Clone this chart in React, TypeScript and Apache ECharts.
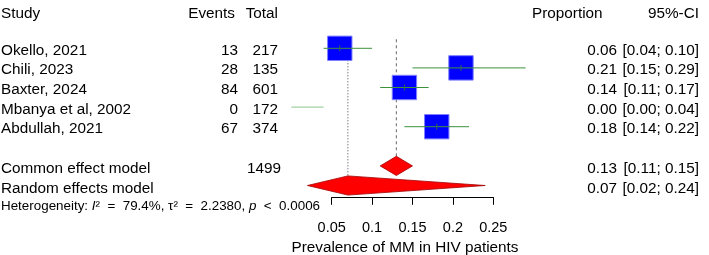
import React, { useEffect, useRef } from "react";
import * as echarts from "echarts";

// Individual studies
const studies = ["Okello, 2021", "Chili, 2023", "Baxter, 2024", "Mbanya et al, 2002", "Abdullah, 2021"];
const events = [13, 28, 84, 0, 67];
const totals = [217, 135, 601, 172, 374];
const proportions = [0.06, 0.21, 0.14, 0.0, 0.18];
const ciLower = [0.04, 0.15, 0.11, 0.0, 0.14];
const ciUpper = [0.1, 0.29, 0.17, 0.04, 0.22];

// Pooled estimates
const pooledLabels = ["Common effect model", "Random effects model"];
const pooledTotal = 1499;
const pooledEstimates = [0.13, 0.07];
const pooledLower = [0.11, 0.02];
const pooledUpper = [0.15, 0.24];

// Axis
const axisMin = 0.05;
const axisMax = 0.25;
const axisStep = 0.05;
const axisTitle = "Prevalence of MM in HIV patients";

const FONT = '"Liberation Sans", Arial, Helvetica, sans-serif';
const FS = 15.3;

const studyRow = (i: number) => i + 1;
const pooledRow = (i: number) => 7 + i;
const hetRow = 9;

const fmt = (v: number) => v.toFixed(2);

function txt(text: string, x: number, y: number, align: string, size = FS) {
  return {
    type: "text",
    style: {
      text,
      x,
      y,
      align,
      verticalAlign: "middle",
      fontSize: size,
      fontFamily: FONT,
      fill: "#000",
    },
  };
}

export default function App() {
  const ref = useRef<HTMLDivElement>(null);

  useEffect(() => {
    if (!ref.current) return;
    const chart = echarts.init(ref.current, undefined, { renderer: "svg" });

    const studyData = studies.map((_, i) => [proportions[i], studyRow(i), ciLower[i], ciUpper[i], i]);
    const pooledData = pooledLabels.map((_, i) => [pooledEstimates[i], pooledRow(i), pooledLower[i], pooledUpper[i], i]);
    const refLines = [
      [pooledEstimates[0], 0.54, pooledRow(0) - 0.5, 0],
      [pooledEstimates[1], 0.54, pooledRow(1) - 0.5, 1],
    ];

    chart.setOption({
      animation: false,
      grid: [
        { left: 291.3, width: 242.4, top: 9.1, height: 215.6 },
        { left: 331.7, width: 161.6, top: 150, height: 47.3 },
      ],
      xAxis: [
        { type: "value", gridIndex: 0, min: 0, max: 0.3, show: false },
        {
          type: "value",
          gridIndex: 1,
          min: axisMin,
          max: axisMax,
          interval: axisStep,
          position: "bottom",
          axisLine: { show: true, lineStyle: { color: "#000", width: 1 } },
          axisTick: { show: true, length: 7.5, lineStyle: { color: "#000", width: 1 } },
          axisLabel: {
            margin: 22,
            fontSize: 14.5,
            fontFamily: FONT,
            color: "#000",
            formatter: (v: number) => String(+v.toFixed(2)),
          },
          splitLine: { show: false },
        },
      ],
      yAxis: [
        { type: "value", gridIndex: 0, min: -1, max: 10, inverse: true, show: false },
        { type: "value", gridIndex: 1, show: false },
      ],
      graphic: [
        txt("Study", 1, 12.5, "left"),
        txt("Events", 235, 12.5, "right"),
        txt("Total", 278, 12.5, "right"),
        txt("Proportion", 532, 12.5, "left"),
        txt("95%-CI", 699, 12.5, "right"),
        txt(axisTitle, 405, 246.5, "center"),
      ],
      series: [
        {
          // reference lines for the pooled estimates
          type: "custom",
          xAxisIndex: 0,
          yAxisIndex: 0,
          data: refLines,
          renderItem: (_p: any, api: any) => {
            const a = api.coord([api.value(0), api.value(1)]);
            const b = api.coord([api.value(0), api.value(2)]);
            const dotted = api.value(3) === 1;
            return {
              type: "line",
              shape: { x1: a[0], y1: a[1], x2: b[0], y2: b[1] },
              style: {
                stroke: dotted ? "#444" : "#666",
                lineWidth: 1,
                lineDash: dotted ? [1, 2] : [3, 3],
              },
            };
          },
        },
        {
          // studies: square, CI line and table columns
          type: "custom",
          xAxisIndex: 0,
          yAxisIndex: 0,
          data: studyData,
          renderItem: (_p: any, api: any) => {
            const i = api.value(4);
            const c = api.coord([api.value(0), api.value(1)]);
            const lo = api.coord([api.value(2), api.value(1)]);
            const hi = api.coord([api.value(3), api.value(1)]);
            const side = 24.4;
            const children: any[] = [];
            if (events[i] > 0) {
              children.push({
                type: "rect",
                shape: { x: c[0] - side / 2, y: c[1] - side / 2, width: side, height: side },
                style: { fill: "#0000ff", stroke: "#8080ff", lineWidth: 1 },
              });
            }
            children.push({
              type: "line",
              shape: { x1: lo[0], y1: c[1], x2: hi[0], y2: c[1] },
              style: { stroke: events[i] > 0 ? "#3c923c" : "#8cc48c", lineWidth: 1 },
            });
            if (events[i] > 0) {
              children.push({
                type: "line",
                shape: { x1: c[0], y1: c[1] - 3, x2: c[0], y2: c[1] + 3 },
                style: { stroke: "#2a6a4a", lineWidth: 1 },
              });
            }
            const ty = c[1] + 1;
            children.push(txt(studies[i], 1, ty, "left"));
            children.push(txt(String(events[i]), 238, ty, "right"));
            children.push(txt(String(totals[i]), 278, ty, "right"));
            children.push(txt(fmt(proportions[i]), 617, ty, "right"));
            children.push(txt(`[${fmt(ciLower[i])}; ${fmt(ciUpper[i])}]`, 699, ty, "right"));
            return { type: "group", children };
          },
        },
        {
          // pooled diamonds and their rows
          type: "custom",
          xAxisIndex: 0,
          yAxisIndex: 0,
          data: pooledData,
          renderItem: (_p: any, api: any) => {
            const i = api.value(4);
            const r = api.value(1);
            const e = api.value(0);
            const pts = [
              api.coord([api.value(2), r]),
              api.coord([e, r - 0.49]),
              api.coord([api.value(3), r]),
              api.coord([e, r + 0.49]),
            ];
            const ty = pts[0][1] + 2;
            const children: any[] = [
              {
                type: "polygon",
                shape: { points: pts },
                style: { fill: "#ff0000", stroke: "#a00000", lineWidth: 0.8 },
              },
              txt(pooledLabels[i], 1, ty, "left"),
              txt(fmt(pooledEstimates[i]), 617, ty, "right"),
              txt(`[${fmt(pooledLower[i])}; ${fmt(pooledUpper[i])}]`, 699, ty, "right"),
            ];
            if (i === 0) children.push(txt(String(pooledTotal), 281, ty, "right"));
            return { type: "group", children };
          },
        },
        {
          // heterogeneity statement
          type: "custom",
          xAxisIndex: 0,
          yAxisIndex: 0,
          data: [[0, hetRow]],
          renderItem: (_p: any, api: any) => {
            const c = api.coord([0, api.value(1)]);
            const base = { fontSize: 13.4, fontFamily: FONT, fill: "#000" };
            return {
              type: "text",
              style: {
                text: "Heterogeneity: {it|I}²  =  79.4%, τ²  =  2.2380, {it|p}  <  0.0006",
                x: 1,
                y: c[1],
                align: "left",
                verticalAlign: "middle",
                ...base,
                rich: {
                  it: { ...base, fontStyle: "italic" },
                },
              },
            };
          },
        },
      ],
    });

    return () => chart.dispose();
  }, []);

  return (
    <div
      ref={ref}
      style={{ position: "fixed", left: 0, top: 0, width: 709, height: 255 }}
    />
  );
}
